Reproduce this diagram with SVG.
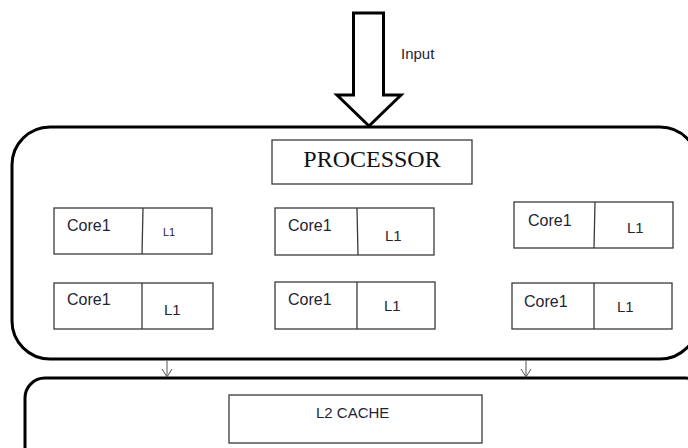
<svg xmlns="http://www.w3.org/2000/svg" width="688" height="448" viewBox="0 0 688 448">
  <defs>
    <style>
      .outer { fill: none; stroke: #000; stroke-width: 3; }
      .box { fill: #fff; stroke: #3a3a3a; stroke-width: 1.3; }
      .txt { font-family: "Liberation Sans", Arial, sans-serif; font-size: 15px; fill: #1f2433; }
      .core { font-size: 16px; }
      .small { font-size: 11px; }
      .serif { font-family: "Liberation Serif", "Times New Roman", serif; font-size: 24px; fill: #111; }
      .link { fill: none; stroke: #555; stroke-width: 1; }
    </style>
    <marker id="vhead" markerWidth="12" markerHeight="12" refX="10" refY="6" orient="auto" markerUnits="userSpaceOnUse" viewBox="0 0 12 12">
      <path d="M2,1 L10,6 L2,11" fill="none" stroke="#555" stroke-width="1"/>
    </marker>
  </defs>
  <rect width="688" height="448" fill="#fff"/>

  <!-- input arrow -->
  <g id="input">
    <path d="M353.5,13 H383.5 V95 H401 L369,126 L337,95 H353.5 Z" fill="#fff" stroke="#000" stroke-width="3" stroke-linejoin="miter"/>
    <text class="txt" x="401" y="59" font-size="14">Input</text>
  </g>

  <!-- processor enclosure -->
  <g id="processor">
    <rect class="outer" x="12" y="127" width="686" height="232" rx="38" ry="38"/>
    <rect class="box" x="272" y="140" width="200" height="44"/>
    <text class="serif" x="372" y="167" text-anchor="middle">PROCESSOR</text>
  </g>

  <!-- cores, row 1 -->
  <g id="core-r1-c1">
    <rect class="box" x="54" y="208" width="158" height="46"/>
    <line class="box" x1="143" y1="208" x2="142" y2="254"/>
    <text class="txt core" x="67" y="231">Core1</text>
    <text class="txt small" x="163" y="236">L1</text>
  </g>
  <g id="core-r1-c2">
    <rect class="box" x="275" y="208" width="159" height="47"/>
    <line class="box" x1="357" y1="208" x2="358" y2="255"/>
    <text class="txt core" x="288" y="231">Core1</text>
    <text class="txt" x="385" y="241">L1</text>
  </g>
  <g id="core-r1-c3">
    <rect class="box" x="514" y="202" width="159" height="46"/>
    <line class="box" x1="595" y1="202" x2="594" y2="248"/>
    <text class="txt core" x="528" y="226">Core1</text>
    <text class="txt" x="627" y="233">L1</text>
  </g>

  <!-- cores, row 2 -->
  <g id="core-r2-c1">
    <rect class="box" x="54" y="283" width="159" height="46"/>
    <line class="box" x1="142" y1="283" x2="142" y2="329"/>
    <text class="txt core" x="67" y="305">Core1</text>
    <text class="txt" x="164" y="315">L1</text>
  </g>
  <g id="core-r2-c2">
    <rect class="box" x="275" y="282" width="160" height="47"/>
    <line class="box" x1="357" y1="282" x2="357" y2="329"/>
    <text class="txt core" x="288" y="305">Core1</text>
    <text class="txt" x="384" y="311">L1</text>
  </g>
  <g id="core-r2-c3">
    <rect class="box" x="512" y="283" width="160" height="46"/>
    <line class="box" x1="594" y1="283" x2="594" y2="329"/>
    <text class="txt core" x="524" y="307">Core1</text>
    <text class="txt" x="617" y="312">L1</text>
  </g>

  <!-- L2 cache enclosure -->
  <g id="l2cache">
    <rect class="outer" x="25" y="378" width="680" height="100" rx="20" ry="20"/>
    <rect class="box" x="229" y="395" width="253" height="48"/>
    <text class="txt" x="316" y="418">L2 CACHE</text>
  </g>

  <!-- connectors from processor to L2 cache -->
  <g id="connectors">
    <line class="link" x1="167" y1="360.5" x2="167" y2="377" marker-end="url(#vhead)"/>
    <line class="link" x1="526" y1="360.5" x2="526" y2="377" marker-end="url(#vhead)"/>
  </g>
</svg>
